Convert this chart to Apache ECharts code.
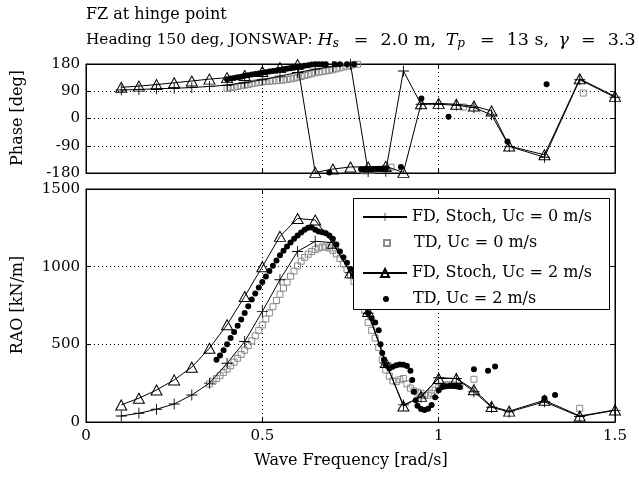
<!DOCTYPE html>
<html><head><meta charset="utf-8">
<script src="https://cdn.jsdelivr.net/npm/echarts@6/dist/echarts.min.js"></script>
<style>html,body{margin:0;padding:0;background:#fff}#c{width:639px;height:479px}</style>
</head><body><div id="c"></div>
<script>
// ---------- data ----------
const freqFD = [0.1,0.15,0.2,0.25,0.3,0.35,0.4,0.45,0.5,0.55,0.6,0.65,0.7,0.75,0.8,0.85,0.9,0.95,1.0,1.05,1.1,1.15,1.2,1.3,1.4,1.5];
const fd0Rao = [39,56,82,116,174,250,378,518,712,916,1098,1163,1155,960,700,380,110,160,285,280,195,95,65,130,35,75];
const fd2Rao = [110,153,206,271,353,475,626,808,1000,1195,1310,1300,1150,960,712,383,103,165,280,280,208,100,70,140,39,77];
const fd0Phase = [94,96,98,100,102,106,110,118,128,140,152,163,172,179,-175,-174,157,47,47,44,36,12,-92,-128,128,70];
const fd2Phase = [103,107,112,118,124,130,135,142,155,168,178,-178,-167,-160,-160,-158,-178,49,50,47,41,25,-91,-120,131,73];

const td0Freq = [0.35,0.36,0.37,0.38,0.39,0.40,0.41,0.42,0.43,0.44,0.45,0.46,0.47,0.48,0.49,0.50,0.51,0.52,0.53,0.54,0.55,0.56,0.57,0.58,0.59,0.60,0.61,0.62,0.63,0.64,0.65,0.66,0.67,0.68,0.69,0.70,0.71,0.72,0.73,0.74,0.75,0.76,0.77,0.78,0.79,0.80,0.81,0.82,0.83,0.84,0.85,0.86,0.87,0.88,0.89,0.90,0.91,0.92,0.93,0.94,0.95,0.96,0.97,0.98,0.99,1.00,1.01,1.02,1.03,1.04,1.05,1.06,1.10,1.40];
const td0Rao = [245,262,280,298,318,340,362,385,410,435,462,492,522,555,590,625,663,702,742,782,822,862,900,938,972,1005,1035,1060,1080,1097,1110,1120,1126,1127,1120,1105,1082,1052,1018,982,945,905,860,800,720,640,590,540,480,400,335,295,265,260,272,280,245,218,200,192,185,170,172,185,205,222,232,238,240,238,235,230,275,88];

const td2Freq = [0.37,0.38,0.39,0.40,0.41,0.42,0.43,0.44,0.45,0.46,0.47,0.48,0.49,0.50,0.51,0.52,0.53,0.54,0.55,0.56,0.57,0.58,0.59,0.60,0.61,0.62,0.63,0.64,0.65,0.66,0.67,0.68,0.69,0.70,0.71,0.72,0.73,0.74,0.75,0.76,0.77,0.78,0.79,0.80,0.81,0.82,0.83,0.835,0.84,0.845,0.85,0.86,0.87,0.88,0.89,0.90,0.91,0.92,0.925,0.93,0.935,0.94,0.95,0.96,0.97,0.98,0.99,1.00,1.01,1.02,1.03,1.04,1.05,1.06,1.10,1.14,1.16,1.30,1.33];
const td2Rao = [400,428,462,500,540,580,620,660,702,745,788,828,866,902,937,972,1006,1040,1073,1103,1130,1156,1180,1201,1220,1237,1250,1252,1238,1226,1222,1215,1200,1180,1142,1098,1060,1025,985,948,900,845,780,700,668,640,590,500,445,400,365,345,355,366,370,368,360,330,270,195,140,105,84,77,85,110,160,205,225,230,232,232,230,225,340,330,357,153,174];

const td0PhFreq = [0.40,0.41,0.42,0.43,0.44,0.45,0.46,0.47,0.48,0.49,0.50,0.51,0.52,0.53,0.54,0.55,0.56,0.57,0.58,0.59,0.60,0.61,0.62,0.63,0.64,0.65,0.66,0.67,0.68,0.69,0.70,0.71,0.72,0.73,0.74,0.75,0.76,0.77,0.79,0.81,0.83,0.85,0.865,1.07,1.41];
const td0Phase = [100,102,104,106,108,110,112,115,117,119,121,122,123,124,125,126,127,129,131,133,136,139,142,145,148,151,153,155,157,159,161,164,167,170,173,176,178,179,-173,-171,-169,-166,-161,38,84];

const td2PhFreq = [0.40,0.41,0.42,0.43,0.44,0.45,0.46,0.47,0.48,0.49,0.50,0.51,0.52,0.53,0.54,0.55,0.56,0.57,0.58,0.59,0.60,0.61,0.62,0.63,0.64,0.65,0.66,0.67,0.68,0.69,0.705,0.72,0.74,0.76,0.78,0.79,0.80,0.81,0.82,0.83,0.84,0.85,0.893,0.951,1.028,1.195,1.306];
const td2Phase = [130,132,134,136,138,141,143,145,147,149,151,153,155,157,158,160,162,164,166,168,170,172,174,176,178,179,179,179,179,-178,179,179,179,179,-168,-167,-167,-167,-167,-166,-166,-166,-160,66,6,-76,113];

const xTicks = [0, 0.5, 1, 1.5];
const phaseTicks = [-180, -90, 0, 90, 180];
const raoTicks = [0, 500, 1000, 1500];

const names = ['FD, Stoch, Uc = 0 m/s', 'TD, Uc = 0 m/s', 'FD, Stoch, Uc = 2 m/s', 'TD, Uc = 2 m/s'];
const titleLine1 = 'FZ at hinge point';
const titleLine2 = 'Heading 150 deg, JONSWAP: {i|H}{sub|s}{eq|=}{m|2.0 m,}{sp| }{i|T}{sub|p}{eq|=}{m|13 s,}{sp| }{i|γ}{eq|=}{m|3.3}';
const xName = 'Wave Frequency [rad/s]';
const yNamePhase = 'Phase [deg]';
const yNameRao = 'RAO [kN/m]';

// ---------- chart ----------
const zip = (xs, ys) => xs.map((x, i) => [x, ys[i]]);
const FONT = 'DejaVu Serif';
const plusPath = 'path://M0,4.6H10V5.4H0Z M4.6,0H5.4V10H4.6Z';
const squareIcon = 'path://M0,0M14,14M4,4H10V10H4Z';
const dotIcon = 'path://M0,0M14,14M4,7A3,3 0 1,0 10,7A3,3 0 1,0 4,7Z';

function xAx(grid, pos, labels, split) {
  return {
    type: 'value', gridIndex: grid, position: pos, min: xTicks[0], max: xTicks[xTicks.length-1],
    interval: xTicks[1]-xTicks[0],
    axisLine: {show: true, onZero: false, lineStyle: {color: '#000', width: 1}},
    axisTick: {show: true, inside: true, length: 5, lineStyle: {color: '#000'}},
    axisLabel: {show: labels, color: '#000', fontFamily: FONT, fontSize: 15, margin: 7,
      formatter: v => String(v)},
    splitLine: {show: split, lineStyle: {color: '#000', type: [1, 3], width: 1}}
  };
}
function yAx(grid, pos, ticks, labels, split) {
  return {
    type: 'value', gridIndex: grid, position: pos, min: ticks[0], max: ticks[ticks.length-1],
    interval: ticks[1]-ticks[0],
    axisLine: {show: true, onZero: false, lineStyle: {color: '#000', width: 1}},
    axisTick: {show: true, inside: true, length: 5, lineStyle: {color: '#000'}},
    axisLabel: {show: labels, color: '#000', fontFamily: FONT, fontSize: 15, margin: 6,
      formatter: v => String(v)},
    splitLine: {show: split, lineStyle: {color: '#000', type: [1, 3], width: 1}}
  };
}

function seriesSet(xi, yi, fdF, fd0, fd2, t0F, t0, t2F, t2) {
  return [
    {name: names[1], type: 'scatter', xAxisIndex: xi, yAxisIndex: yi, data: zip(t0F, t0),
      symbol: 'rect', symbolSize: 6,
      itemStyle: {color: 'rgba(255,255,255,0)', borderColor: '#8a8a8a', borderWidth: 1, opacity: 1}},
    {name: names[3], type: 'scatter', xAxisIndex: xi, yAxisIndex: yi, data: zip(t2F, t2),
      symbol: 'circle', symbolSize: 6, itemStyle: {color: '#000', opacity: 1}},
    {name: names[0], type: 'line', xAxisIndex: xi, yAxisIndex: yi, data: zip(fdF, fd0),
      symbol: plusPath, symbolSize: 11, showAllSymbol: true,
      lineStyle: {color: '#000', width: 1}, itemStyle: {color: '#000'}},
    {name: names[2], type: 'line', xAxisIndex: xi, yAxisIndex: yi, data: zip(fdF, fd2),
      symbol: 'triangle', symbolSize: [11, 10], showAllSymbol: true,
      lineStyle: {color: '#000', width: 1},
      itemStyle: {color: 'rgba(255,255,255,0)', borderColor: '#000', borderWidth: 1}}
  ];
}

const rowY = [214, 242, 270, 298];
function legendRow(i, h, icon, left) {
  const entry = icon ? {name: names[i], icon: icon} : {name: names[i]};
  return {
    data: [entry], orient: 'vertical', left: left, top: rowY[i] - h / 2,
    padding: 0, itemWidth: 44, itemHeight: h, z: 20, symbolKeepAspect: true,
    textStyle: {fontFamily: FONT, fontSize: 16, color: '#000'},
    selectedMode: false
  };
}

const chart = echarts.init(document.getElementById('c'), null, {renderer: 'canvas'});
chart.setOption({
  animation: false,
  backgroundColor: '#fff',
  textStyle: {fontFamily: FONT},
  title: [
    {text: titleLine1, left: 81, top: 2,
      textStyle: {fontFamily: FONT, fontSize: 16, fontWeight: 'normal', color: '#000'}},
    {text: titleLine2, left: 81, top: 25,
      textStyle: {fontFamily: FONT, fontSize: 15.3, fontWeight: 'normal', color: '#000',
        rich: {
          i: {fontFamily: FONT, fontStyle: 'italic', fontSize: 17.5, color: '#000'},
          sub: {fontFamily: FONT, fontStyle: 'italic', fontSize: 12, color: '#000', padding: [8, 3, 0, 0]},
          eq: {fontFamily: FONT, fontSize: 17.5, color: '#000', padding: [0, 12, 0, 12]},
          m: {fontFamily: FONT, fontSize: 17.5, color: '#000'},
          sp: {fontFamily: FONT, fontSize: 17.5, color: '#000', padding: [0, 4, 0, 0]}
        }}}
  ],
  grid: [
    {left: 86, right: 24, top: 64, height: 109, show: true, borderColor: '#000', borderWidth: 1, backgroundColor: '#fff'},
    {left: 86, right: 24, top: 189, height: 233, show: true, borderColor: '#000', borderWidth: 1, backgroundColor: '#fff'}
  ],
  xAxis: [xAx(0, 'bottom', false, true), xAx(0, 'top', false, false),
          xAx(1, 'bottom', true, true), xAx(1, 'top', false, false)],
  yAxis: [yAx(0, 'left', phaseTicks, true, true), yAx(0, 'right', phaseTicks, false, false),
          yAx(1, 'left', raoTicks, true, true), yAx(1, 'right', raoTicks, false, false)],
  legend: [
    legendRow(0, 10, null, 362),
    legendRow(1, 14, squareIcon, 379),
    legendRow(2, 10, null, 362),
    legendRow(3, 14, dotIcon, 379)
  ],
  graphic: [
    {type: 'rect', z: 15, shape: {x: 353.5, y: 198.5, width: 256, height: 111},
      style: {fill: '#fff', stroke: '#000', lineWidth: 1}},
    {type: 'text', x: 18, y: 118, rotation: Math.PI / 2,
      style: {text: yNamePhase, font: '16px "DejaVu Serif"', fill: '#000', textAlign: 'center', textVerticalAlign: 'middle'}},
    {type: 'text', x: 18, y: 305, rotation: Math.PI / 2,
      style: {text: yNameRao, font: '16px "DejaVu Serif"', fill: '#000', textAlign: 'center', textVerticalAlign: 'middle'}},
    {type: 'text', x: 351, y: 461,
      style: {text: xName, font: '16px "DejaVu Serif"', fill: '#000', textAlign: 'center', textVerticalAlign: 'middle'}}
  ],
  series: [
    ...seriesSet(0, 0, freqFD, fd0Phase, fd2Phase, td0PhFreq, td0Phase, td2PhFreq, td2Phase),
    ...seriesSet(2, 2, freqFD, fd0Rao, fd2Rao, td0Freq, td0Rao, td2Freq, td2Rao)
  ]
});
</script>
</body></html>
